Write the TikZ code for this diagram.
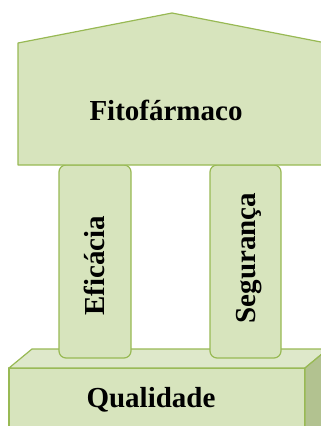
\documentclass[tikz,border=0pt]{standalone}
\usepackage{fontspec}
\setmainfont{Liberation Serif}
\usepackage{xcolor,tikz}

\definecolor{verdeclaro}{HTML}{D7E4BD}
\definecolor{verdetopo}{HTML}{DEE8CA}
\definecolor{verdelado}{HTML}{B2C290}
\definecolor{verdeborda}{HTML}{98B954}

\tikzset{
	peca/.style={draw=verdeborda, line width=1.2pt, fill=verdeclaro, line join=round},
	rotulo/.style={font=\bfseries\fontsize{29}{34}\selectfont, anchor=base, inner sep=0pt}
}

\begin{document}
\begin{tikzpicture}[x=1pt,y=-1pt]
						\useasboundingbox (0,0) rectangle (321,426);
						\clip (0,0) rectangle (321,426);
						
						% base
						\draw[peca] (9,368) rectangle (305,440);
						\draw[peca, fill=verdetopo] (9,368) -- (32,349) -- (328,349) -- (305,368) -- cycle;
						\draw[peca, fill=verdelado] (305,368) -- (328,349) -- (328,421) -- (305,440) -- cycle;
						\node[rotulo] (qualidade) at (151,407) {Qualidade};
						
						% colunas
						\draw[peca, rounded corners=7pt] (59,165) rectangle (131,358);
						\draw[peca, rounded corners=7pt] (210,165) rectangle (281,358);
						\node[rotulo, rotate=90] (eficacia) at (104,266) {Eficácia};
						\node[rotulo, rotate=90] (seguranca) at (255,258) {Segurança};
						
						% telhado
						\draw[peca] (18,165) -- (18,43) -- (172,13) -- (326,43) -- (326,165) -- cycle;
						\node[rotulo] (fitofarmaco) at (166,120) {Fitofármaco};
\end{tikzpicture}
\end{document}
